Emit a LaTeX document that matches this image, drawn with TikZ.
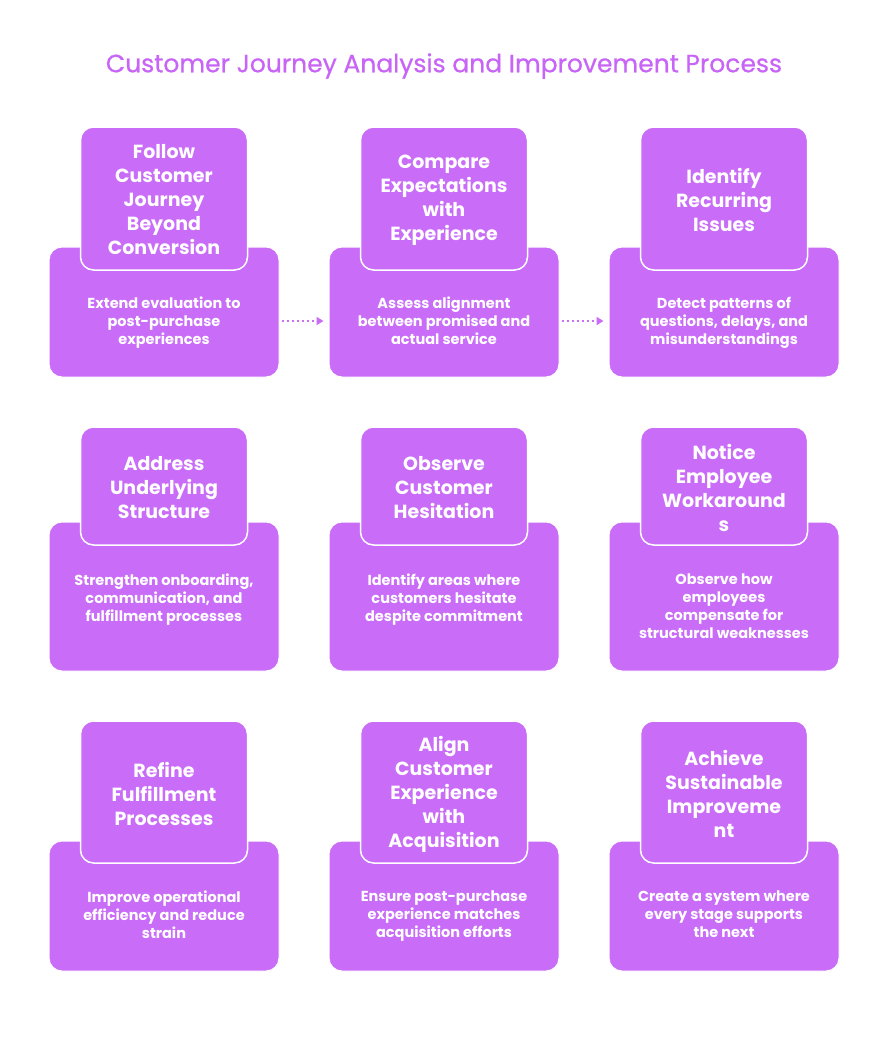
\documentclass[tikz,border=0pt]{standalone}
\usepackage{fontspec}
\setmainfont{Poppins}
\newfontfamily\titlefont{Poppins}[BoldFont={Poppins},BoldFeatures={FakeBold=0.6}]
\usetikzlibrary{arrows.meta}
\definecolor{cardpurple}{HTML}{C96CF8}
\definecolor{titlepurple}{HTML}{C865F7}
\tikzset{
  botcard/.style={fill=cardpurple, draw=white, line width=1pt, rounded corners=13pt, minimum width=230pt, inner sep=0pt},
  topcard/.style={fill=cardpurple, draw=white, line width=1.5pt, rounded corners=13pt, minimum width=167pt, inner sep=0pt},
  headtext/.style={text=white, font=\fontsize{19}{24}\selectfont\bfseries, align=center, inner sep=0pt},
  desctext/.style={text=white, font=\fontsize{14.5}{18}\selectfont\bfseries, align=center, inner sep=0pt, anchor=north},
  flowarrow/.style={draw=cardpurple, line width=1.8pt, dash pattern=on 2.5pt off 2.5pt, -{Triangle[length=7pt,width=8pt]}, shorten <=2pt, shorten >=5pt}
}
\begin{document}
\begin{tikzpicture}[x=1pt,y=-1pt]
\useasboundingbox[fill=white] (0,0) rectangle (889,1044);
\node[text=titlepurple, font=\fontsize{25}{28}\selectfont\titlefont\bfseries] (title) at (444,66) {Customer Journey Analysis and Improvement Process};

% Row 1
\node[botcard, minimum height=130pt] (b1) at (164,312) {};
\node[botcard, minimum height=130pt] (b2) at (444,312) {};
\node[botcard, minimum height=130pt] (b3) at (724,312) {};
\node[topcard, minimum height=143pt] (t1) at (164,198.5) {};
\node[topcard, minimum height=143pt] (t2) at (444,198.5) {};
\node[topcard, minimum height=143pt] (t3) at (724,198.5) {};
\node[headtext] (h1) at (164,200) {Follow\\Customer\\Journey\\Beyond\\Conversion};
\node[headtext] (h2) at (444,200) {Compare\\Expectations\\with\\Experience};
\node[headtext] (h3) at (724,200) {Identify\\Recurring\\Issues};
\node[desctext] (d1) at (164,297) {Extend evaluation to\\post-purchase\\experiences};
\node[desctext] (d2) at (444,297) {Assess alignment\\between promised and\\actual service};
\node[desctext] (d3) at (724,297) {Detect patterns of\\questions, delays, and\\misunderstandings};

% Row 2
\node[botcard, minimum height=149pt] (b4) at (164,596.5) {};
\node[botcard, minimum height=149pt] (b5) at (444,596.5) {};
\node[botcard, minimum height=149pt] (b6) at (724,596.5) {};
\node[topcard, minimum height=118pt] (t4) at (164,486) {};
\node[topcard, minimum height=118pt] (t5) at (444,486) {};
\node[topcard, minimum height=118pt] (t6) at (724,486) {};
\node[headtext] (h4) at (164,488) {Address\\Underlying\\Structure};
\node[headtext] (h5) at (444,488) {Observe\\Customer\\Hesitation};
\node[headtext] (h6) at (724,488) {Notice\\Employee\\Workaround\\s};
\node[desctext] (d4) at (164,574) {Strengthen onboarding,\\communication, and\\fulfillment processes};
\node[desctext] (d5) at (444,574) {Identify areas where\\customers hesitate\\despite commitment};
\node[desctext] (d6) at (724,574) {Observe how\\employees\\compensate for\\structural weaknesses};

% Row 3
\node[botcard, minimum height=130pt] (b7) at (164,906) {};
\node[botcard, minimum height=130pt] (b8) at (444,906) {};
\node[botcard, minimum height=130pt] (b9) at (724,906) {};
\node[topcard, minimum height=142pt] (t7) at (164,792) {};
\node[topcard, minimum height=142pt] (t8) at (444,792) {};
\node[topcard, minimum height=142pt] (t9) at (724,792) {};
\node[headtext] (h7) at (164,794) {Refine\\Fulfillment\\Processes};
\node[headtext] (h8) at (444,794) {Align\\Customer\\Experience\\with\\Acquisition};
\node[headtext] (h9) at (724,794) {Achieve\\Sustainable\\Improveme\\nt};
\node[desctext] (d7) at (164,891) {Improve operational\\efficiency and reduce\\strain};
\node[desctext] (d8) at (444,891) {Ensure post-purchase\\experience matches\\acquisition efforts};
\node[desctext] (d9) at (724,891) {Create a system where\\every stage supports\\the next};

% Arrows
\draw[flowarrow] ([yshift=-9pt]b1.east) -- ([yshift=-9pt]b2.west);
\draw[flowarrow] ([yshift=-9pt]b2.east) -- ([yshift=-9pt]b3.west);
\end{tikzpicture}
\end{document}
